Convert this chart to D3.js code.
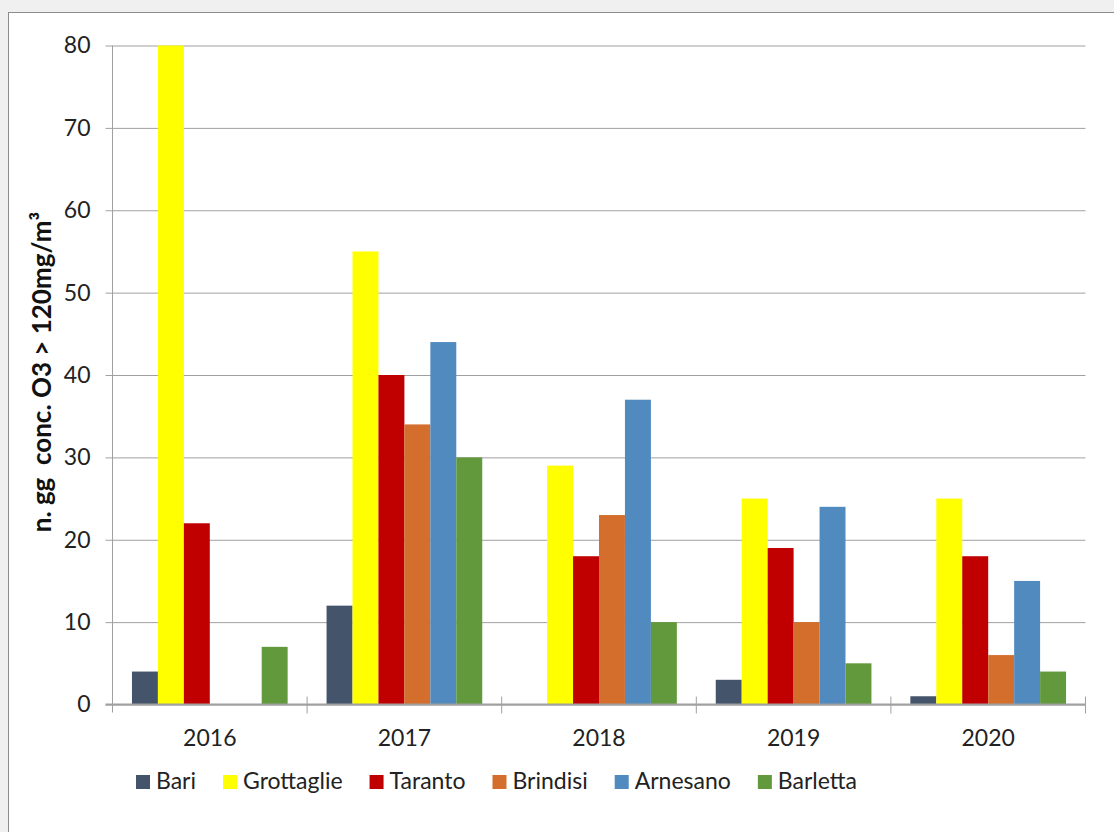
<!DOCTYPE html>
<html>

<head>
    <meta charset="UTF-8">
    <title>O3 days</title>
    <script src="https://cdn.jsdelivr.net/npm/d3@7"></script>
    <style>
        body { margin: 0; background: #f0f0f0; }
        svg { display: block; font-family: Lato, "Open Sans", sans-serif; }
    </style>
</head>

<body>
    <script>
        // data
        const years = ['2016', '2017', '2018', '2019', '2020'];
        const stations = ['Bari', 'Grottaglie', 'Taranto', 'Brindisi', 'Arnesano', 'Barletta'];
        const bari = [4, 12, 0, 3, 1];
        const grottaglie = [80, 55, 29, 25, 25];
        const taranto = [22, 40, 18, 19, 18];
        const brindisi = [0, 34, 23, 10, 6];
        const arnesano = [0, 44, 37, 24, 15];
        const barletta = [7, 30, 10, 5, 4];
        const yTicks = [0, 10, 20, 30, 40, 50, 60, 70, 80];
        const colors = ['#44546a', '#ffff00', '#c00000', '#d46e2c', '#508abf', '#63993d'];
        const yLabel = 'n. gg  conc. O3 > 120mg/m³';

        const series = [bari, grottaglie, taranto, brindisi, arnesano, barletta];

        const width = 1114;
        const height = 832;
        const plotL = 112.5, plotR = 1085.5, plotT = 45.5, plotB = 704.5;
        const fs = 23;

        const svg = d3.select('body')
            .append('svg')
            .attr('width', width)
            .attr('height', height);

        // chart frame
        svg.append('rect')
            .attr('x', 8.5).attr('y', 12.5)
            .attr('width', 1200).attr('height', 900)
            .attr('fill', '#fff')
            .attr('stroke', '#8c8c8c');

        const x0 = d3.scaleBand().domain(years).range([plotL, plotR]);
        const bw = x0.bandwidth();
        const x1 = d3.scaleBand().domain(stations).range([bw * 0.1, bw * 0.9]);
        const y = d3.scaleLinear().domain([0, 80]).range([plotB, plotT]);

        // gridlines + y tick labels
        const yAxis = svg.append('g')
            .attr('transform', `translate(${plotR},0)`)
            .call(d3.axisLeft(y).tickValues(yTicks).tickSize(plotR - plotL + 7).tickPadding(15));
        yAxis.select('.domain').remove();
        yAxis.selectAll('line').attr('stroke', '#a0a0a0');
        yAxis.selectAll('text')
            .attr('font-size', fs)
            .attr('fill', '#222')
            .attr('font-family', 'Lato, sans-serif');

        // bars
        const groups = svg.append('g')
            .selectAll('g')
            .data(years)
            .join('g')
            .attr('transform', d => `translate(${x0(d)},0)`);

        groups.selectAll('rect')
            .data((d, i) => stations.map((s, k) => ({ s, k, v: series[k][i] })))
            .join('rect')
            .attr('x', d => x1(d.s))
            .attr('y', d => y(d.v))
            .attr('width', x1.bandwidth())
            .attr('height', d => y(0) - y(d.v))
            .attr('fill', d => colors[d.k]);

        // y axis line
        svg.append('line')
            .attr('x1', plotL).attr('x2', plotL)
            .attr('y1', plotT).attr('y2', plotB + 8)
            .attr('stroke', '#a0a0a0');

        // x baseline + category boundary ticks
        svg.append('line')
            .attr('x1', plotL - 7).attr('x2', plotR)
            .attr('y1', plotB).attr('y2', plotB)
            .attr('stroke', '#a0a0a0')
            .attr('stroke-width', 2);
        svg.append('g')
            .selectAll('line')
            .data(years.slice(1).map(d => x0(d)).concat([plotR]))
            .join('line')
            .attr('x1', d => d).attr('x2', d => d)
            .attr('y1', plotB - 8).attr('y2', plotB + 9)
            .attr('stroke', '#a0a0a0');

        const xAxis = svg.append('g')
            .attr('transform', `translate(0,${plotB})`)
            .call(d3.axisBottom(x0).tickSize(0).tickPadding(25));
        xAxis.select('.domain').remove();
        xAxis.selectAll('text')
            .attr('font-size', fs)
            .attr('fill', '#222')
            .attr('font-family', 'Lato, sans-serif');

        // y axis title
        svg.append('text')
            .attr('transform', 'translate(44,372) rotate(-90)')
            .attr('text-anchor', 'middle')
            .attr('dominant-baseline', 'middle')
            .attr('font-size', 26)
            .attr('font-weight', 'bold')
            .attr('fill', '#111')
            .style('white-space', 'pre')
            .text(yLabel);

        // legend
        const legend = svg.append('g').attr('transform', 'translate(136,775)');
        let lx = 0;
        stations.forEach((s, k) => {
            const item = legend.append('g').attr('transform', `translate(${lx},0)`);
            item.append('rect')
                .attr('width', 14).attr('height', 14)
                .attr('fill', colors[k]);
            const t = item.append('text')
                .attr('x', 20).attr('y', 14)
                .attr('font-size', fs)
                .attr('fill', '#222')
                .text(s);
            lx += 20 + t.node().getComputedTextLength() + 27;
        });
    </script>
</body>

</html>
